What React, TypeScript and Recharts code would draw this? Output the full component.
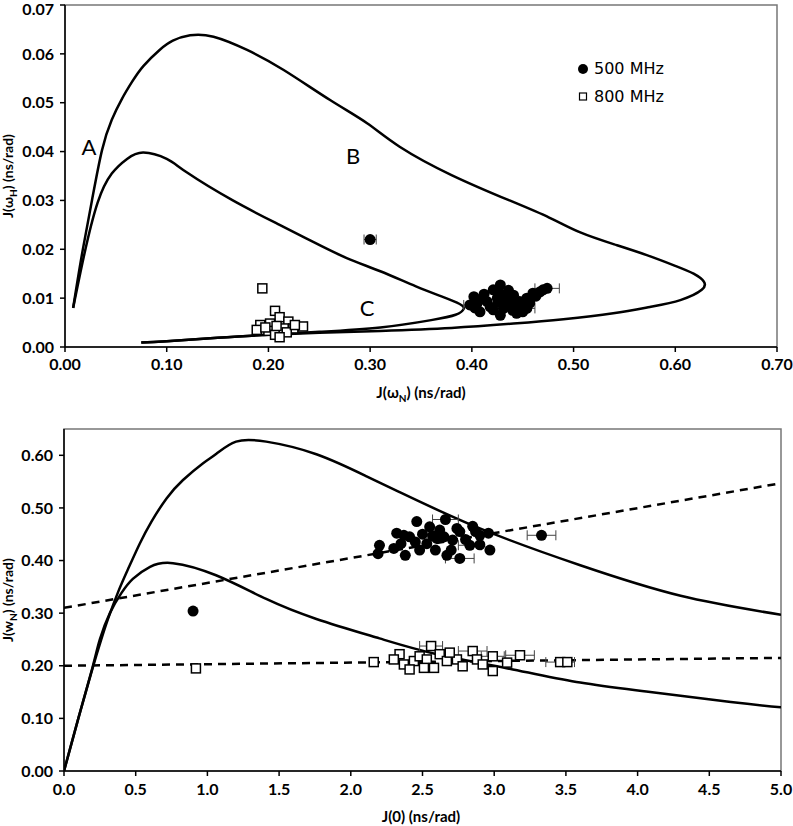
import React from 'react';
import { ComposedChart, Line, Scatter, XAxis, YAxis, ErrorBar, ReferenceArea } from 'recharts';

type Pt = { x: number; y: number };
type Obs = { x: number; y: number; ex?: number };

// ---- top panel: J(wH) vs J(wN) ----
const topOuterCurve: Pt[] = [
  { x: 0.008, y: 0.008 }, { x: 0.0167, y: 0.019 }, { x: 0.0265, y: 0.030 }, { x: 0.0364, y: 0.0403 },
  { x: 0.046, y: 0.0465 }, { x: 0.056, y: 0.0508 }, { x: 0.066, y: 0.0543 }, { x: 0.077, y: 0.0575 },
  { x: 0.093, y: 0.0608 }, { x: 0.106, y: 0.0627 }, { x: 0.123, y: 0.0638 }, { x: 0.146, y: 0.0635 },
  { x: 0.179, y: 0.0608 }, { x: 0.215, y: 0.0567 }, { x: 0.261, y: 0.0505 }, { x: 0.297, y: 0.0458 },
  { x: 0.329, y: 0.0410 }, { x: 0.38, y: 0.0352 }, { x: 0.437, y: 0.0300 }, { x: 0.476, y: 0.0265 },
  { x: 0.506, y: 0.0235 }, { x: 0.54, y: 0.021 }, { x: 0.572, y: 0.0188 }, { x: 0.600, y: 0.0166 },
  { x: 0.618, y: 0.0150 }, { x: 0.628, y: 0.0134 }, { x: 0.626, y: 0.0117 }, { x: 0.605, y: 0.0096 },
  { x: 0.575, y: 0.0082 }, { x: 0.539, y: 0.0069 }, { x: 0.49, y: 0.0057 }, { x: 0.441, y: 0.0048 },
  { x: 0.38, y: 0.0039 }, { x: 0.31, y: 0.0033 }, { x: 0.25, y: 0.0029 }, { x: 0.2, y: 0.0025 },
  { x: 0.15, y: 0.0019 }, { x: 0.1, y: 0.0012 }, { x: 0.075, y: 0.0009 },
];
const topInnerCurve: Pt[] = [
  { x: 0.008, y: 0.008 }, { x: 0.019, y: 0.019 }, { x: 0.032, y: 0.0295 }, { x: 0.046, y: 0.0355 },
  { x: 0.061, y: 0.0385 }, { x: 0.077, y: 0.0398 }, { x: 0.1, y: 0.0385 }, { x: 0.12, y: 0.0357 },
  { x: 0.165, y: 0.030 }, { x: 0.211, y: 0.025 }, { x: 0.244, y: 0.0215 }, { x: 0.277, y: 0.0182 },
  { x: 0.31, y: 0.0155 }, { x: 0.345, y: 0.0124 }, { x: 0.372, y: 0.0102 }, { x: 0.388, y: 0.0088 },
  { x: 0.392, y: 0.0078 }, { x: 0.384, y: 0.0066 }, { x: 0.36, y: 0.0055 }, { x: 0.31, y: 0.0040 },
  { x: 0.25, y: 0.0031 }, { x: 0.2, y: 0.0025 }, { x: 0.15, y: 0.0019 }, { x: 0.1, y: 0.0012 },
  { x: 0.075, y: 0.0009 },
];
const top500: Obs[] = [
  { x: 0.300, y: 0.0220, ex: 0.006 }, { x: 0.428, y: 0.0127 }, { x: 0.402, y: 0.0103 }, { x: 0.421, y: 0.0117 },
  { x: 0.474, y: 0.0120, ex: 0.012 }, { x: 0.460, y: 0.0110 }, { x: 0.398, y: 0.0086, ex: 0.006 }, { x: 0.441, y: 0.0106 },
  { x: 0.428, y: 0.0065 }, { x: 0.454, y: 0.0079, ex: 0.008 }, { x: 0.408, y: 0.0072 }, { x: 0.447, y: 0.0093 },
  { x: 0.415, y: 0.0093 }, { x: 0.434, y: 0.0086 }, { x: 0.444, y: 0.0069 }, { x: 0.425, y: 0.0100 },
  { x: 0.467, y: 0.0113 }, { x: 0.405, y: 0.0089 }, { x: 0.421, y: 0.0076 }, { x: 0.454, y: 0.0100 },
  { x: 0.437, y: 0.0097 }, { x: 0.431, y: 0.0079 }, { x: 0.412, y: 0.0108 }, { x: 0.448, y: 0.0084, ex: 0.01 },
  { x: 0.410, y: 0.0098 }, { x: 0.418, y: 0.0082 }, { x: 0.426, y: 0.0092 }, { x: 0.433, y: 0.0103 },
  { x: 0.439, y: 0.0090 }, { x: 0.450, y: 0.0072 }, { x: 0.457, y: 0.0090 }, { x: 0.463, y: 0.0104 },
  { x: 0.440, y: 0.0075 }, { x: 0.427, y: 0.0110 }, { x: 0.403, y: 0.0080 }, { x: 0.436, y: 0.0116 },
  { x: 0.470, y: 0.0117 },
];
const top800: Obs[] = [
  { x: 0.194, y: 0.0120 }, { x: 0.2065, y: 0.0074 }, { x: 0.211, y: 0.0061 }, { x: 0.192, y: 0.0045 },
  { x: 0.2016, y: 0.0048 }, { x: 0.2196, y: 0.0052 }, { x: 0.234, y: 0.0042, ex: 0.004 }, { x: 0.200, y: 0.0033 },
  { x: 0.2065, y: 0.0025 }, { x: 0.215, y: 0.0038 }, { x: 0.1885, y: 0.0035 }, { x: 0.2245, y: 0.0038 },
  { x: 0.197, y: 0.0040 }, { x: 0.208, y: 0.0043 }, { x: 0.218, y: 0.0030 }, { x: 0.211, y: 0.0020 },
  { x: 0.226, y: 0.0045 },
];
const topXTicks = [0, 0.1, 0.2, 0.3, 0.4, 0.5, 0.6, 0.7];
const topYTicks = [0, 0.01, 0.02, 0.03, 0.04, 0.05, 0.06, 0.07];

// ---- bottom panel: J(wN) vs J(0) ----
const botOuterCurve: Pt[] = [
  { x: 0, y: 0 }, { x: 0.1, y: 0.1 }, { x: 0.2, y: 0.196 }, { x: 0.26, y: 0.25 }, { x: 0.307, y: 0.289 },
  { x: 0.377, y: 0.34 }, { x: 0.447, y: 0.384 }, { x: 0.528, y: 0.432 }, { x: 0.61, y: 0.474 },
  { x: 0.715, y: 0.518 }, { x: 0.83, y: 0.553 }, { x: 0.97, y: 0.585 }, { x: 1.063, y: 0.603 },
  { x: 1.2, y: 0.626 }, { x: 1.41, y: 0.626 }, { x: 1.76, y: 0.602 }, { x: 2.11, y: 0.56 },
  { x: 2.34, y: 0.53 }, { x: 2.9, y: 0.461 }, { x: 3.6, y: 0.391 }, { x: 4.3, y: 0.333 }, { x: 5.0, y: 0.297 },
];
const botInnerCurve: Pt[] = [
  { x: 0, y: 0 }, { x: 0.1, y: 0.1 }, { x: 0.2, y: 0.198 }, { x: 0.25, y: 0.25 }, { x: 0.32, y: 0.30 },
  { x: 0.40, y: 0.338 }, { x: 0.48, y: 0.365 }, { x: 0.6, y: 0.388 }, { x: 0.76, y: 0.395 },
  { x: 1.06, y: 0.372 }, { x: 1.41, y: 0.327 }, { x: 1.76, y: 0.289 }, { x: 2.2, y: 0.252 },
  { x: 2.6, y: 0.222 }, { x: 3.13, y: 0.193 }, { x: 3.6, y: 0.168 }, { x: 4.06, y: 0.151 },
  { x: 4.65, y: 0.131 }, { x: 5.0, y: 0.121 },
];
const botFit500: Pt[] = [{ x: 0, y: 0.31 }, { x: 5, y: 0.547 }];
const botFit800: Pt[] = [{ x: 0, y: 0.200 }, { x: 5, y: 0.215 }];
const bot500: Obs[] = [
  { x: 0.9, y: 0.304 }, { x: 3.33, y: 0.448, ex: 0.1 }, { x: 2.20, y: 0.429 }, { x: 2.19, y: 0.413 },
  { x: 2.46, y: 0.474 }, { x: 2.66, y: 0.478, ex: 0.09 }, { x: 2.32, y: 0.452 }, { x: 2.30, y: 0.423 },
  { x: 2.38, y: 0.410 }, { x: 2.55, y: 0.464 }, { x: 2.41, y: 0.445 }, { x: 2.48, y: 0.420 },
  { x: 2.60, y: 0.442 }, { x: 2.67, y: 0.410 }, { x: 2.76, y: 0.404, ex: 0.1 }, { x: 2.76, y: 0.455 },
  { x: 2.83, y: 0.429, ex: 0.08 }, { x: 2.87, y: 0.455 }, { x: 2.96, y: 0.452 }, { x: 2.97, y: 0.420 },
  { x: 2.71, y: 0.439 }, { x: 2.53, y: 0.432 }, { x: 2.62, y: 0.458 }, { x: 2.37, y: 0.448 },
  { x: 2.74, y: 0.461 }, { x: 2.90, y: 0.448 }, { x: 2.59, y: 0.420 },
  { x: 2.45, y: 0.435 }, { x: 2.65, y: 0.445 }, { x: 2.80, y: 0.440 }, { x: 2.50, y: 0.450 },
  { x: 2.90, y: 0.430 }, { x: 2.35, y: 0.432 }, { x: 2.70, y: 0.420 }, { x: 2.57, y: 0.447 },
  { x: 2.85, y: 0.465 },
];
const bot800: Obs[] = [
  { x: 0.92, y: 0.195 }, { x: 2.16, y: 0.207 }, { x: 2.56, y: 0.2375, ex: 0.08 }, { x: 2.34, y: 0.222 },
  { x: 2.30, y: 0.212 }, { x: 2.37, y: 0.2025 }, { x: 2.44, y: 0.209 }, { x: 2.48, y: 0.218 },
  { x: 2.53, y: 0.212 }, { x: 2.58, y: 0.196 }, { x: 2.62, y: 0.222 }, { x: 2.67, y: 0.209 },
  { x: 2.74, y: 0.212 }, { x: 2.78, y: 0.199 }, { x: 2.85, y: 0.228, ex: 0.1 }, { x: 2.88, y: 0.212 },
  { x: 2.92, y: 0.2025 }, { x: 2.99, y: 0.218, ex: 0.08 }, { x: 2.99, y: 0.190 }, { x: 3.09, y: 0.206 },
  { x: 3.18, y: 0.220, ex: 0.1 }, { x: 3.46, y: 0.207, ex: 0.1 }, { x: 3.51, y: 0.207 }, { x: 2.51, y: 0.196 },
  { x: 2.69, y: 0.225 }, { x: 2.41, y: 0.193 },
];
const botXTicks = [0, 0.5, 1, 1.5, 2, 2.5, 3, 3.5, 4, 4.5, 5];
const botYTicks = [0, 0.1, 0.2, 0.3, 0.4, 0.5, 0.6];

const FONT = 'Lato, "Open Sans", sans-serif';
const tickStyle = { fill: '#000', fontSize: 16, fontWeight: 700, fontFamily: FONT };
const axisStyle = { stroke: '#000', strokeWidth: 1.5 };

const Dot = (props: any) => <circle cx={props.cx} cy={props.cy} r={5.5} fill="#000" />;
const Box = (props: any) => (
  <rect x={props.cx - 4.5} y={props.cy - 4.5} width={9} height={9} fill="#fff" stroke="#000" strokeWidth={1.5} />
);

const abs = (left: number, top: number, extra: React.CSSProperties = {}): React.CSSProperties => ({
  position: 'absolute', left, top, ...extra,
});

export default function App() {
  return (
    <div style={{ position: 'absolute', left: 0, top: 0, width: 793, height: 826, background: '#fff', fontFamily: FONT }}>
      {/* top panel */}
      <div style={abs(0, 0)}>
        <ComposedChart width={793} height={410} margin={{ top: 5, right: 16, bottom: 33, left: 5 }}>
          <XAxis type="number" dataKey="x" domain={[0, 0.7]} ticks={topXTicks} tickFormatter={(v: number) => v.toFixed(2)}
            tick={tickStyle} axisLine={axisStyle} tickLine={axisStyle} tickSize={5} tickMargin={7} height={30} allowDataOverflow />
          <YAxis type="number" dataKey="y" domain={[0, 0.07]} ticks={topYTicks} tickFormatter={(v: number) => v.toFixed(2)}
            tick={tickStyle} axisLine={axisStyle} tickLine={axisStyle} tickSize={5} tickMargin={6} width={60} allowDataOverflow />
          <ReferenceArea x1={0} x2={0.7} y1={0} y2={0.07} fill="none" stroke="#777" strokeWidth={1.5} />
          <Line data={topOuterCurve} dataKey="y" type="natural" stroke="#000" strokeWidth={2.5} dot={false} isAnimationActive={false} />
          <Line data={topInnerCurve} dataKey="y" type="natural" stroke="#000" strokeWidth={2.5} dot={false} isAnimationActive={false} />
          <Scatter data={top800} dataKey="y" shape={Box} isAnimationActive={false}>
            <ErrorBar dataKey="ex" direction="x" width={5} stroke="#444" strokeWidth={1} />
          </Scatter>
          <Scatter data={top500} dataKey="y" shape={Dot} isAnimationActive={false}>
            <ErrorBar dataKey="ex" direction="x" width={5} stroke="#444" strokeWidth={1} />
          </Scatter>
        </ComposedChart>
      </div>
      <div style={abs(9, 176, { transform: 'translate(-50%,-50%) rotate(-90deg)', fontSize: 14, fontWeight: 700, whiteSpace: 'nowrap' })}>
        J(ω<sub style={{ fontSize: 10 }}>H</sub>) (ns/rad)
      </div>
      <div style={abs(421, 393, { transform: 'translate(-50%,-50%)', fontSize: 15, fontWeight: 700, whiteSpace: 'nowrap' })}>
        J(ω<sub style={{ fontSize: 10 }}>N</sub>) (ns/rad)
      </div>
      <div style={abs(89, 146, { transform: 'translate(-50%,-50%)', fontSize: 22 })}>A</div>
      <div style={abs(353, 155, { transform: 'translate(-50%,-50%)', fontSize: 22 })}>B</div>
      <div style={abs(367, 307, { transform: 'translate(-50%,-50%)', fontSize: 22 })}>C</div>
      {/* legend */}
      <svg style={abs(576, 60)} width={16} height={46}>
        <circle cx={7} cy={9} r={5} fill="#000" />
        <rect x={3.5} y={33} width={7} height={7} fill="#fff" stroke="#000" strokeWidth={1.2} />
      </svg>
      <div style={abs(594, 58, { fontSize: 16, fontFamily: '"DejaVu Sans", sans-serif', lineHeight: '22px' })}>500 MHz</div>
      <div style={abs(594, 86, { fontSize: 16, fontFamily: '"DejaVu Sans", sans-serif', lineHeight: '22px' })}>800 MHz</div>

      {/* bottom panel */}
      <div style={abs(0, 415)}>
        <ComposedChart width={793} height={411} margin={{ top: 14, right: 12, bottom: 25, left: 5 }}>
          <XAxis type="number" dataKey="x" domain={[0, 5]} ticks={botXTicks} tickFormatter={(v: number) => v.toFixed(1)}
            tick={tickStyle} axisLine={axisStyle} tickLine={axisStyle} tickSize={5} tickMargin={8} height={30} allowDataOverflow />
          <YAxis type="number" dataKey="y" domain={[0, 0.65]} ticks={botYTicks} tickFormatter={(v: number) => v.toFixed(2)}
            tick={tickStyle} axisLine={axisStyle} tickLine={axisStyle} tickSize={5} tickMargin={6} width={59} allowDataOverflow />
          <ReferenceArea x1={0} x2={5} y1={0} y2={0.65} fill="none" stroke="#777" strokeWidth={1.5} />
          <Line data={botOuterCurve} dataKey="y" type="natural" stroke="#000" strokeWidth={2.5} dot={false} isAnimationActive={false} />
          <Line data={botInnerCurve} dataKey="y" type="natural" stroke="#000" strokeWidth={2.5} dot={false} isAnimationActive={false} />
          <Line data={botFit500} dataKey="y" type="linear" stroke="#000" strokeWidth={2.5} strokeDasharray="8 6" dot={false} isAnimationActive={false} />
          <Line data={botFit800} dataKey="y" type="linear" stroke="#000" strokeWidth={2.5} strokeDasharray="8 6" dot={false} isAnimationActive={false} />
          <Scatter data={bot800} dataKey="y" shape={Box} isAnimationActive={false}>
            <ErrorBar dataKey="ex" direction="x" width={5} stroke="#444" strokeWidth={1} />
          </Scatter>
          <Scatter data={bot500} dataKey="y" shape={Dot} isAnimationActive={false}>
            <ErrorBar dataKey="ex" direction="x" width={5} stroke="#444" strokeWidth={1} />
          </Scatter>
        </ComposedChart>
      </div>
      <div style={abs(9, 600, { transform: 'translate(-50%,-50%) rotate(-90deg)', fontSize: 14, fontWeight: 700, whiteSpace: 'nowrap' })}>
        J(w<sub style={{ fontSize: 10 }}>N</sub>) (ns/rad)
      </div>
      <div style={abs(421, 816, { transform: 'translate(-50%,-50%)', fontSize: 15, fontWeight: 700, whiteSpace: 'nowrap' })}>
        J(0) (ns/rad)
      </div>
    </div>
  );
}
